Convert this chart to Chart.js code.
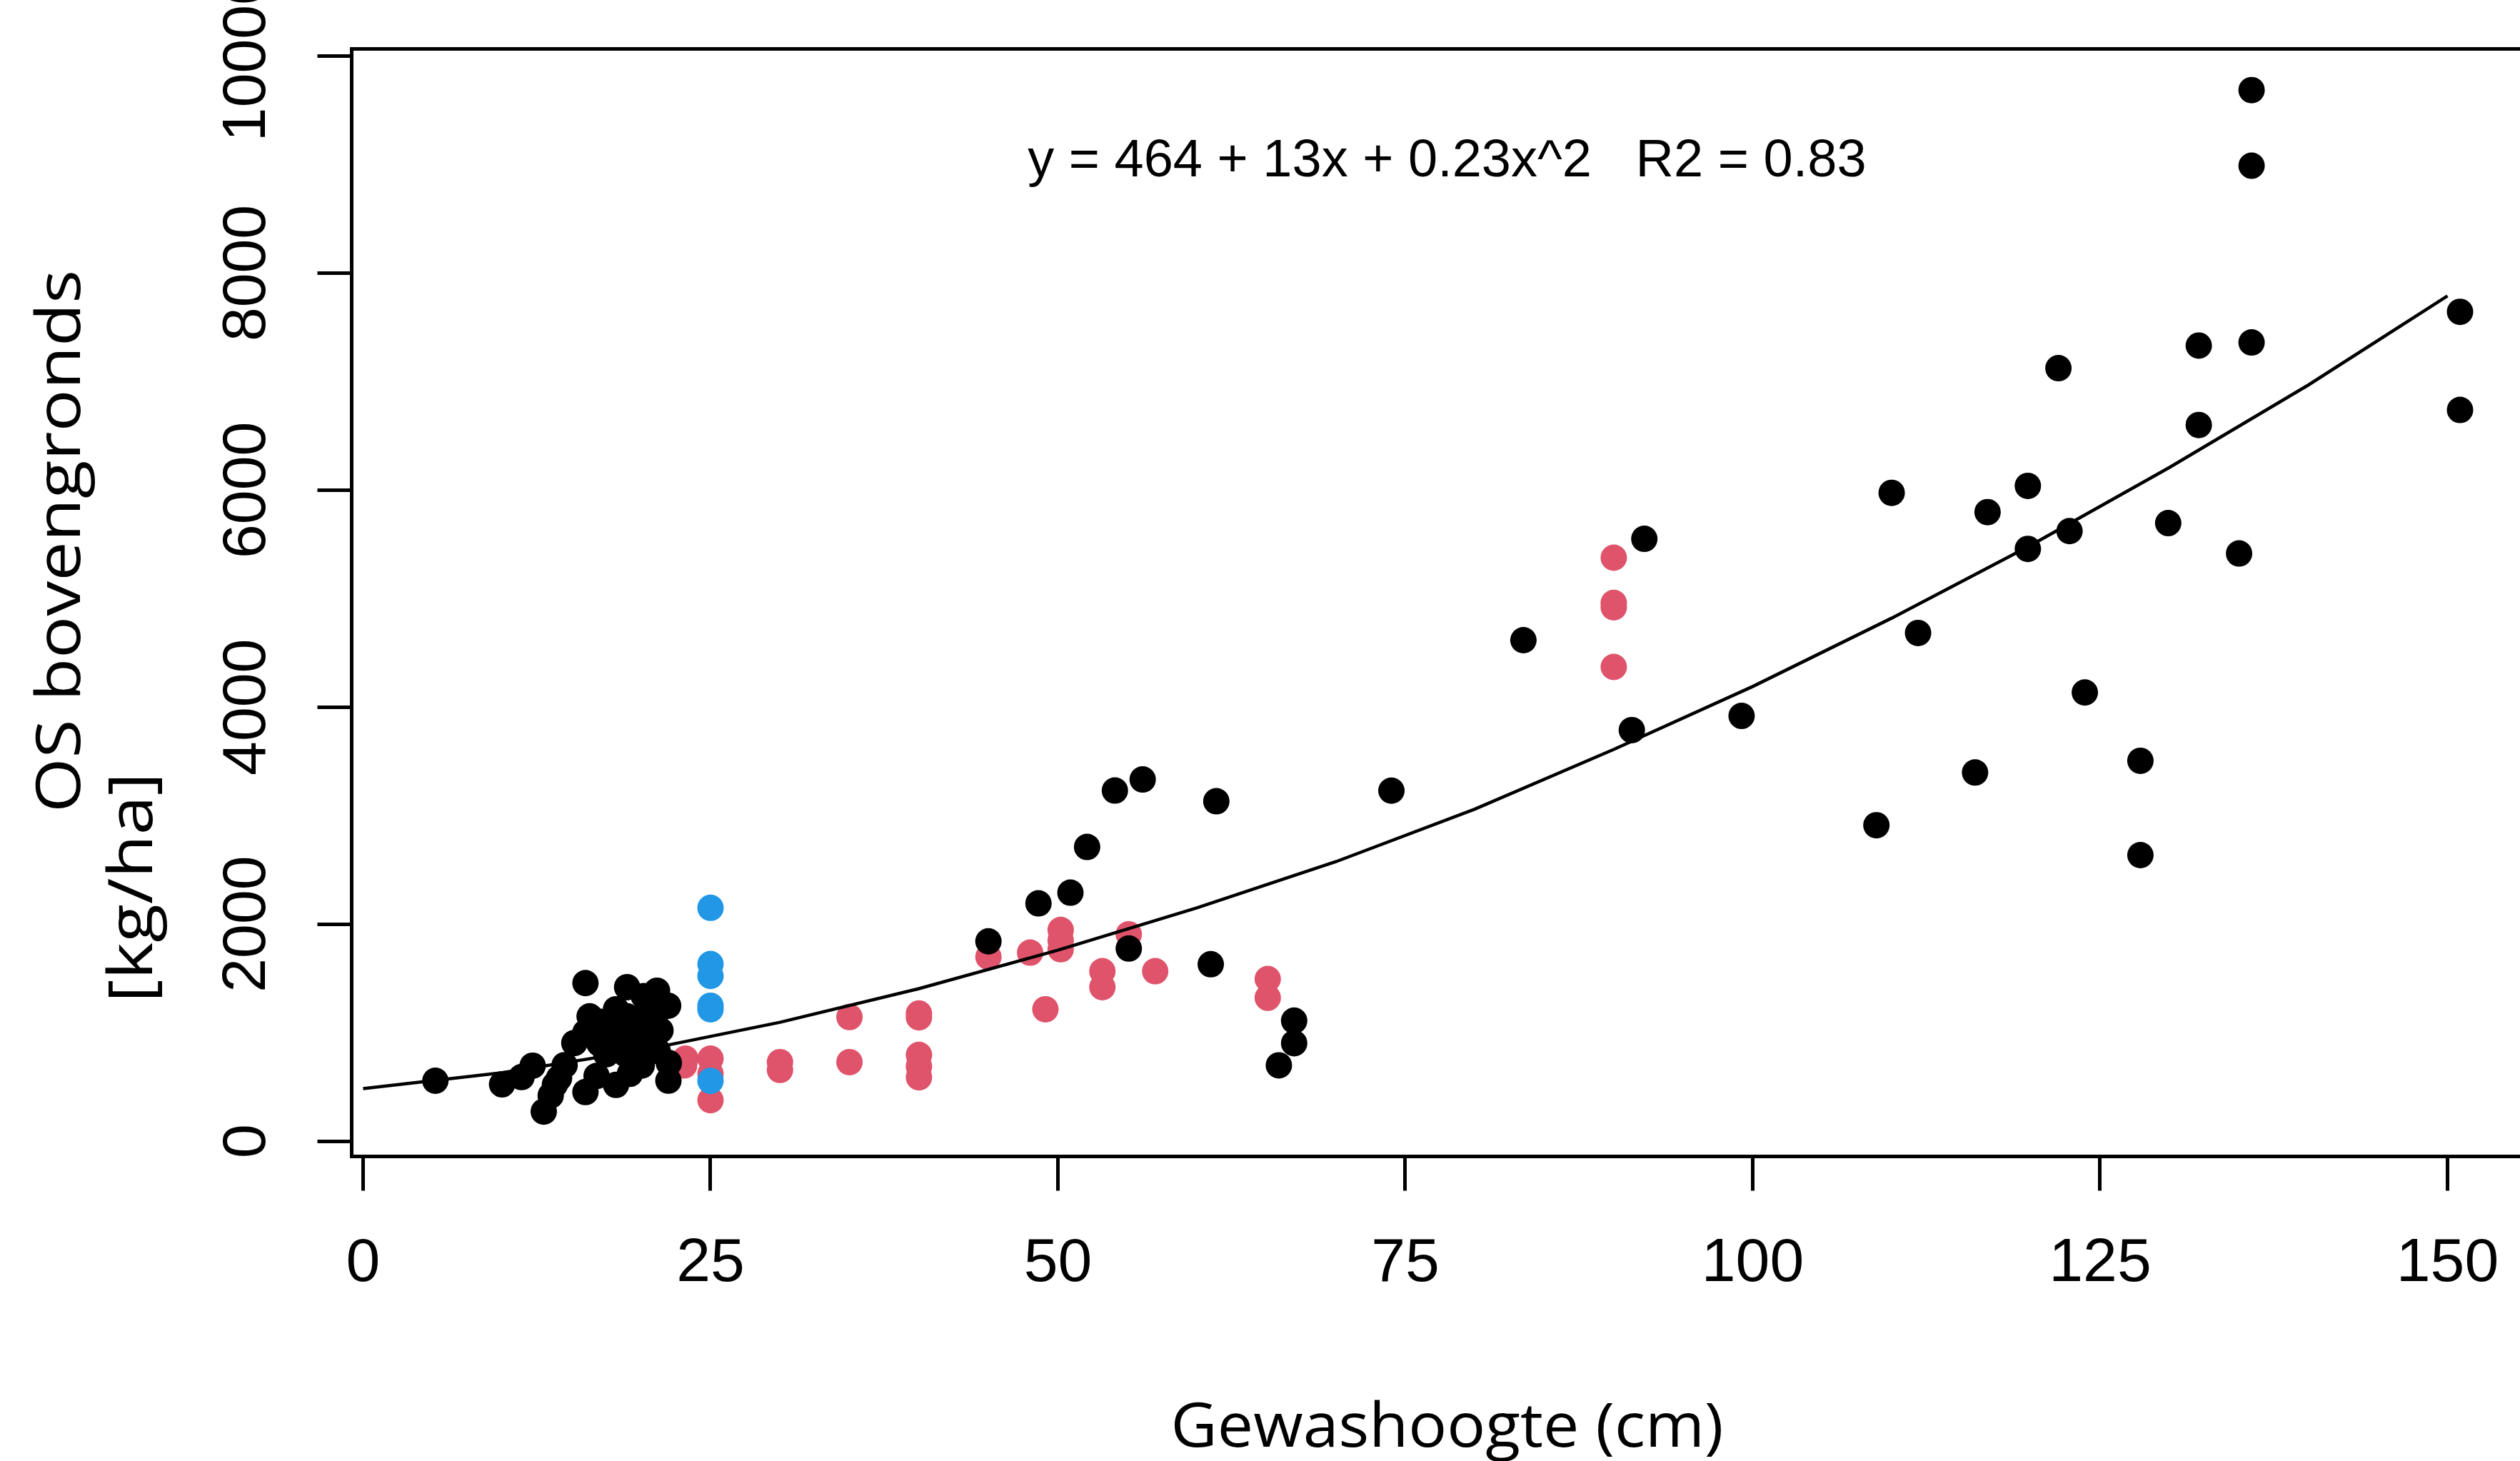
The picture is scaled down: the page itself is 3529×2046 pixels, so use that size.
<!DOCTYPE html>
<html>
<head>
<meta charset="utf-8">
<script src="https://cdn.jsdelivr.net/npm/chart.js@4.4.0/dist/chart.umd.min.js"></script>
<style>
  html, body { margin: 0; padding: 0; background: #fff; overflow: hidden; }
  #wrap { position: absolute; left: 0; top: 0; width: 3600px; height: 2046px; }
</style>
</head>
<body>
<div id="wrap"><canvas id="chart" width="3600" height="2046"></canvas></div>
<script>
// Gewashoogte (cm) against OS bovengronds (kg/ha), three groups + quadratic fit
const blackX = [5.2, 10.0, 11.4, 12.2, 13.0, 13.5, 13.8, 14.1, 14.5, 15.2, 16.0, 16.0, 16.0, 16.3, 16.8, 17.0, 17.0,
  17.5, 18.0, 18.2, 18.2, 18.5, 18.9, 19.0, 19.0, 19.2, 19.5, 19.8, 20.0, 20.05, 20.2, 20.5, 20.8, 21.0,
  21.15, 21.2, 21.4, 21.95, 22.0, 21.97,
  45.0, 48.6, 50.9, 52.1, 54.1, 56.1, 61.4, 55.1, 61.0, 67.0, 67.0, 65.9, 74.0, 83.5, 91.3, 92.2,
  99.2, 108.9, 110.0, 111.9, 116.0, 116.9, 119.8, 119.8, 122.0, 122.8, 123.9, 127.9, 127.9, 129.9,
  132.1, 132.1, 135.0, 135.9, 135.9, 135.9, 150.9, 150.9];
const blackY = [556, 523, 590, 695, 272, 420, 520, 580, 700, 904, 1456, 1002, 452, 1150, 600, 1100, 900,
  800, 1050, 518, 1215, 950, 800, 1419, 1150, 620, 850, 950, 1050, 696, 1336, 1250, 900, 1150,
  1386, 830, 1020, 1248, 720, 557,
  1841, 2191, 2290, 2711, 3231, 3333, 3132, 1775, 1630, 1110, 902, 698, 3230, 4617, 3788, 5551,
  3919, 2911, 5975, 4683, 3397, 5797, 6039, 5458, 7124, 5622, 4135, 3505, 2636, 5696,
  7332, 6600, 5416, 9687, 8990, 7361, 7643, 6739];

const redX = [23.2, 23.1, 25, 25, 25, 30, 30, 35, 35, 40, 40, 40, 40, 40, 45, 48, 49.1, 50.2, 50.2, 50.2,
  53.2, 53.2, 55.1, 57, 65.1, 65.1, 90, 90, 90, 90];
const redY = [760, 697, 760, 620, 377, 728, 656, 1143, 728, 1176, 1141, 794, 689, 588, 1698, 1737, 1215, 1946, 1850, 1768,
  1566, 1419, 1906, 1566, 1494, 1321, 5377, 4960, 4920, 4370];

const blueX = [25, 25, 25, 25, 25, 25];
const blueY = [2150, 1632, 1522, 1248, 1215, 555];

const fitX = [0, 10, 20, 30, 40, 50, 60, 70, 80, 90, 100, 110, 120, 130, 140, 150];
const fitY = [484, 630, 835, 1095, 1405, 1760, 2150, 2575, 3060, 3610, 4190, 4820, 5490, 6210, 6970, 7790];

const xTicks = [0, 25, 50, 75, 100, 125, 150];
const yTicks = [0, 2000, 4000, 6000, 8000, 10000];

const xTitle = 'Gewashoogte (cm)';
const yTitle = ['OS bovengronds', '[kg/ha]'];
const fitLabel = 'y = 464 + 13x + 0.23x^2   R2 = 0.83';

const toPoints = (xs, ys) => xs.map((x, i) => ({ x: x, y: ys[i] }));

// draws text squeezed/stretched to a given width (the axis titles use a wide sans)
function drawWide(ctx, text, x, y, width, angle) {
  ctx.save();
  ctx.translate(x, y);
  ctx.rotate(angle);
  const w = ctx.measureText(text).width;
  ctx.scale(width / w, 1);
  ctx.fillText(text, 0, 0);
  ctx.restore();
}

const framePlugin = {
  id: 'frame',
  beforeDatasetsDraw(chart) {
    const { ctx, chartArea: a } = chart;
    ctx.save();
    ctx.strokeStyle = '#000';
    ctx.lineWidth = 5;
    ctx.strokeRect(a.left, a.top, a.right - a.left, a.bottom - a.top);
    ctx.restore();
  }
};

const textPlugin = {
  id: 'texts',
  afterDraw(chart) {
    const { ctx, chartArea: a, scales } = chart;
    ctx.save();
    ctx.fillStyle = '#000';
    ctx.textAlign = 'center';
    ctx.textBaseline = 'alphabetic';

    ctx.font = '86px "Open Sans"';
    drawWide(ctx, xTitle, (a.left + a.right) / 2, 2026, 774, 0);
    drawWide(ctx, yTitle[0], 112, 758, 760, -Math.PI / 2);
    drawWide(ctx, yTitle[1], 213, 1243, 322, -Math.PI / 2);

    ctx.font = '74px "Liberation Sans"';
    ctx.fillText(fitLabel, scales.x.getPixelForValue(78), scales.y.getPixelForValue(8890));
    ctx.restore();
  }
};

const tickFont = { family: 'Liberation Sans', size: 86, lineHeight: 1 };

new Chart(document.getElementById('chart'), {
  type: 'scatter',
  data: {
    datasets: [
      {
        label: 'fit',
        data: toPoints(fitX, fitY),
        showLine: true,
        pointRadius: 0,
        borderColor: '#000000',
        borderWidth: 4.5,
        fill: false,
        order: 0
      },
      { label: 'blue', data: toPoints(blueX, blueY), backgroundColor: '#2297E6', order: 1 },
      { label: 'black', data: toPoints(blackX, blackY), backgroundColor: '#000000', order: 2 },
      { label: 'red', data: toPoints(redX, redY), backgroundColor: '#DF536B', order: 3 }
    ]
  },
  options: {
    responsive: false,
    animation: false,
    devicePixelRatio: 1,
    layout: { padding: { top: 68.5, right: 39.4, bottom: 0, left: 0 } },
    elements: { point: { radius: 18.5, hoverRadius: 18.5, borderWidth: 0 } },
    plugins: { legend: { display: false }, tooltip: { enabled: false } },
    scales: {
      x: {
        type: 'linear',
        min: -0.822,
        max: 156.84,
        afterFit: s => { s.height = 426.5; },
        afterBuildTicks: s => { s.ticks = xTicks.map(v => ({ value: v })); },
        border: { display: true, color: '#000', width: 5 },
        grid: { drawOnChartArea: false, drawTicks: true, tickLength: 48, tickWidth: 5, tickColor: '#000' },
        ticks: {
          color: '#000', font: tickFont, padding: 59.5, maxRotation: 0, autoSkip: false,
          callback: v => String(v)
        }
      },
      y: {
        type: 'linear',
        min: -141.5,
        max: 10066.3,
        afterFit: s => { s.width = 492.5; },
        afterBuildTicks: s => { s.ticks = yTicks.map(v => ({ value: v })); },
        border: { display: true, color: '#000', width: 5 },
        grid: { drawOnChartArea: false, drawTicks: true, tickLength: 48, tickWidth: 5, tickColor: '#000' },
        ticks: {
          color: '#000', font: tickFont, padding: -22, minRotation: 90, maxRotation: 90,
          crossAlign: 'center', autoSkip: false,
          callback: v => String(v)
        }
      }
    }
  },
  plugins: [framePlugin, textPlugin]
});
</script>
</body>
</html>
